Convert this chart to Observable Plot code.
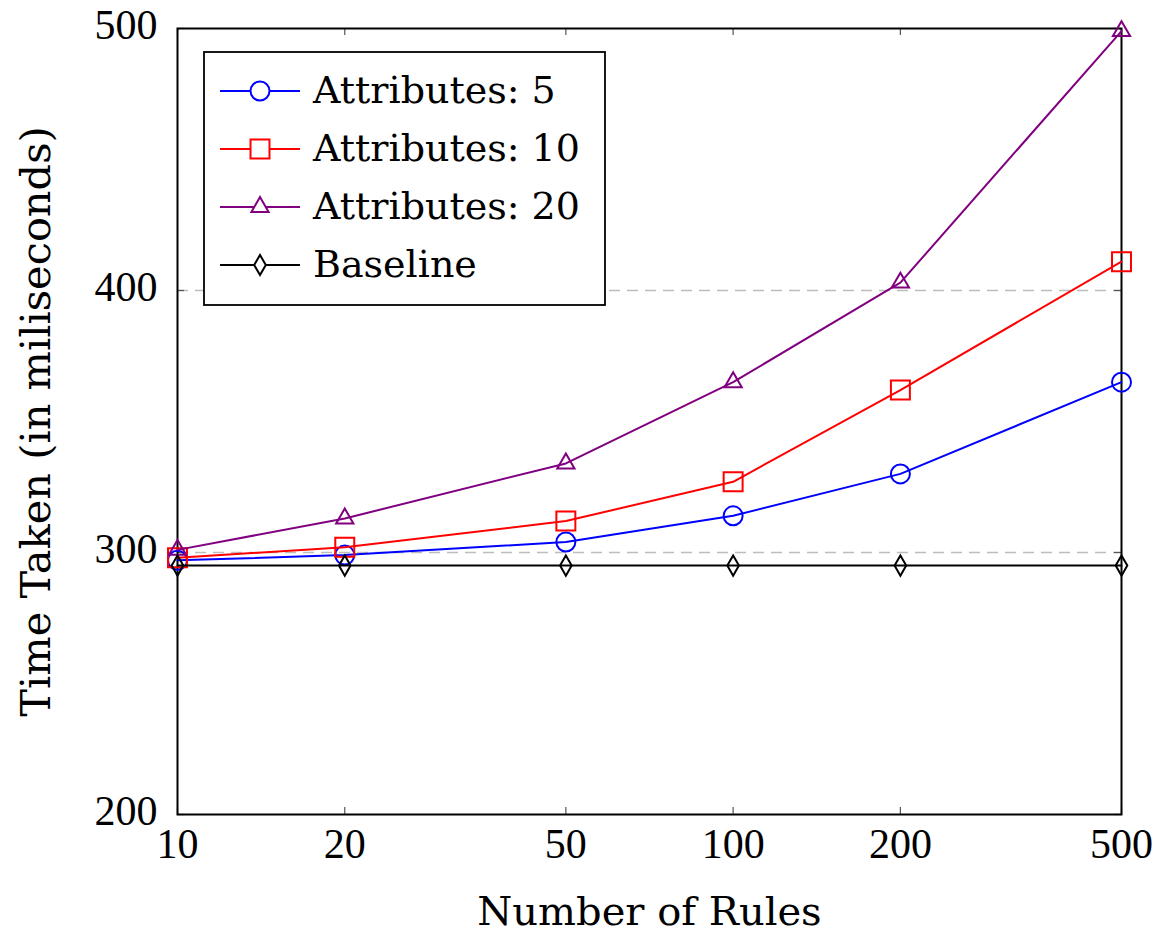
<!DOCTYPE html>
<html>
<head>
<meta charset="utf-8">
<script src="https://cdn.jsdelivr.net/npm/d3@7"></script>
<script src="https://cdn.jsdelivr.net/npm/@observablehq/plot@0.6"></script>
<style>
  html, body { margin: 0; padding: 0; background: white; }
  #wrap { position: relative; width: 1170px; height: 938px; }
  #legend { position: absolute; left: 0; top: 0; pointer-events: none; }
</style>
</head>
<body>
<div id="wrap"></div>
<script>
// ---- data ----
const rules = [10, 20, 50, 100, 200, 500];
const attr5 = [297, 299, 304, 314, 330, 365];
const attr10 = [298, 302, 312, 327, 362, 411];
const attr20 = [301, 313, 334, 365, 403, 499];
const baseline = [295, 295, 295, 295, 295, 295];
const seriesNames = ["Attributes: 5", "Attributes: 10", "Attributes: 20", "Baseline"];
const seriesColors = ["#0000ff", "#ff0000", "#800080", "#000000"];
const seriesSymbols = ["circle", "square", "triangle", "diamond"];
const seriesR = [9.5, 10.7, 6.4, 6.1];
const xTicks = [10, 20, 50, 100, 200, 500];
const yTicks = [200, 300, 400, 500];
const gridY = [300, 400];
const xLabel = "Number of Rules";
const yLabel = "Time Taken (in miliseconds)";

const seriesValues = [attr5, attr10, attr20, baseline];
const tables = seriesValues.map((vals, s) =>
  rules.map((x, i) => ({ x, y: vals[i], series: seriesNames[s] })));

const W = 1170, H = 938;
const mL = 177, mR = 49, mT = 28, mB = 124;
const frameW = W - mL - mR, frameH = H - mT - mB;
const labelFont = "DejaVu Serif";
const tickFont = "Liberation Serif";

const seriesMarks = [];
tables.forEach((t, s) => {
  seriesMarks.push(Plot.line(t, { x: "x", y: "y", stroke: seriesColors[s], strokeWidth: 2 }));
  seriesMarks.push(Plot.dot(t, { x: "x", y: "y", stroke: seriesColors[s], fill: "none",
    symbol: seriesSymbols[s], r: seriesR[s], strokeWidth: 2 }));
});

const chart = Plot.plot({
  width: W, height: H,
  marginLeft: mL, marginRight: mR, marginTop: mT, marginBottom: mB,
  style: { fontFamily: tickFont, fontSize: "42px", color: "black", background: "white", overflow: "visible" },
  x: { type: "log", domain: [10, 500] },
  y: { domain: [200, 500] },
  marks: [
    Plot.ruleY(gridY, { stroke: "#bdbdbd", strokeWidth: 1.6, strokeDasharray: "11,7" }),
    Plot.tickX(xTicks, { x: d => d, insetTop: frameH - 7, stroke: "#555", strokeWidth: 1.2 }),
    Plot.tickX(xTicks, { x: d => d, insetBottom: frameH - 7, stroke: "#555", strokeWidth: 1.2 }),
    Plot.tickY(yTicks, { y: d => d, insetRight: frameW - 7, stroke: "#555", strokeWidth: 1.2 }),
    Plot.tickY(yTicks, { y: d => d, insetLeft: frameW - 7, stroke: "#555", strokeWidth: 1.2 }),
    Plot.axisX(xTicks, { tickSize: 0, tickPadding: 14, tickFormat: d => String(d), label: null, fontSize: 42 }),
    Plot.axisY(yTicks, { tickSize: 0, tickPadding: 20, tickFormat: d => String(d), label: null, fontSize: 42, dy: -3 }),
    Plot.frame({ stroke: "black", strokeWidth: 2 }),
    ...seriesMarks,
    Plot.text([xLabel], { text: d => d, frameAnchor: "bottom", dy: 98, lineAnchor: "middle", textAnchor: "middle",
      fontFamily: labelFont, fontSize: 40, fill: "black" }),
    Plot.text([yLabel], { text: d => d, frameAnchor: "left", dx: -141, rotate: -90, lineAnchor: "middle",
      textAnchor: "middle", fontFamily: labelFont, fontSize: 41.5, fill: "black" })
  ]
});

const wrap = document.getElementById("wrap");
wrap.appendChild(chart);

// ---- legend overlay ----
const leg = d3.select(wrap).append("svg").attr("id", "legend").attr("width", W).attr("height", H);
const box = { x: 204, y: 52, w: 401, h: 253 };
leg.append("rect").attr("x", box.x).attr("y", box.y).attr("width", box.w).attr("height", box.h)
  .attr("fill", "white").attr("stroke", "black").attr("stroke-width", 1.8);
const rowY = [91, 149, 207, 265];
const symMap = { circle: d3.symbolCircle, square: d3.symbolSquare, triangle: d3.symbolTriangle, diamond: d3.symbolDiamond };
seriesNames.forEach((name, i) => {
  const g = leg.append("g").attr("transform", `translate(0,${rowY[i]})`);
  g.append("line").attr("x1", 220).attr("x2", 300).attr("y1", 0).attr("y2", 0)
    .attr("stroke", seriesColors[i]).attr("stroke-width", 2);
  g.append("path").attr("transform", "translate(260,0)")
    .attr("d", d3.symbol(symMap[seriesSymbols[i]], Math.PI * seriesR[i] * seriesR[i])())
    .attr("fill", "white").attr("stroke", seriesColors[i]).attr("stroke-width", 2);
  g.append("text").attr("x", 313).attr("y", 12).text(name)
    .attr("font-family", labelFont).attr("font-size", 38).attr("fill", "black");
});
</script>
</body>
</html>
